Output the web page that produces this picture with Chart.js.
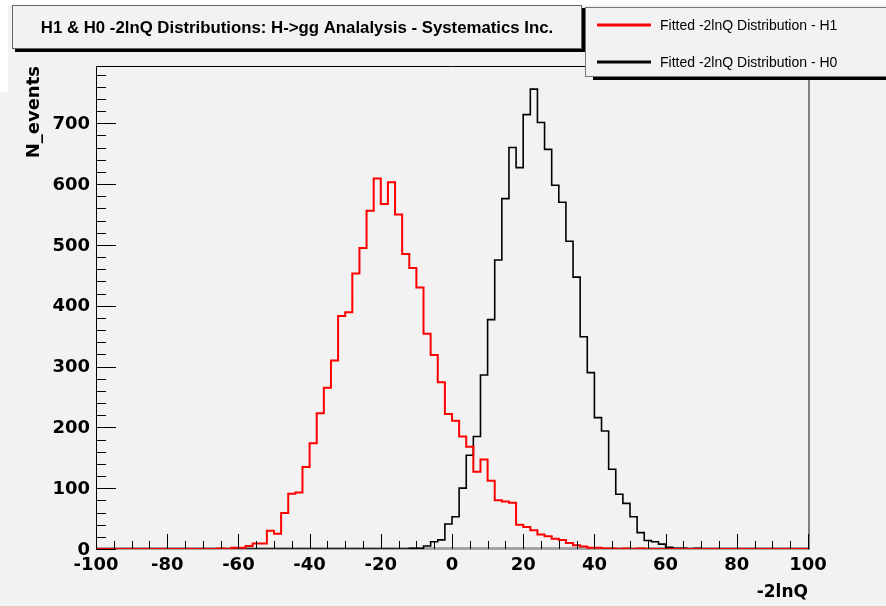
<!DOCTYPE html>
<html>
<head>
<meta charset="utf-8">
<title>H1 & H0 -2lnQ Distributions</title>
<script src="https://cdn.jsdelivr.net/npm/chart.js@4.4.1/dist/chart.umd.min.js"></script>
<style>
  body { margin: 0; background: #f2f2f2; }
  canvas { display: block; }
</style>
</head>
<body>
<canvas id="grafico" width="886" height="608"></canvas>
<script>
const chartTitle = "H1 & H0 -2lnQ Distributions: H->gg Analalysis - Systematics Inc.";
const seriesNames = ["Fitted -2lnQ Distribution - H1", "Fitted -2lnQ Distribution - H0"];

// 100 bins of width 2 from -100 to 100
const xMin = -100, xMax = 100, binWidth = 2;
const yMax = 794;
const xTicks = [-100, -80, -60, -40, -20, 0, 20, 40, 60, 80, 100];
const yTicks = [0, 100, 200, 300, 400, 500, 600, 700];

const h1Counts = [
  0, 0, 0, 0, 0, 0, 0, 0, 0, 0,
  0, 0, 0, 0, 0, 0, 0, 1, 0, 2,
  2, 5, 9, 9, 30, 25, 59, 91, 93, 135,
  174, 223, 265, 310, 383, 389, 453, 495, 556, 609,
  567, 603, 550, 485, 462, 430, 354, 319, 274, 222,
  211, 185, 168, 127, 147, 112, 80, 78, 76, 40,
  36, 31, 24, 21, 17, 15, 10, 6, 4, 2,
  2, 1, 1, 0, 1, 0, 1, 0, 0, 0,
  0, 0, 0, 0, 0, 0, 0, 0, 0, 0,
  0, 0, 0, 0, 0, 0, 0, 0, 0, 0
];

const h0Counts = [
  0, 0, 0, 0, 0, 0, 0, 0, 0, 0,
  0, 0, 0, 0, 0, 0, 0, 0, 0, 0,
  0, 0, 0, 0, 0, 0, 0, 0, 0, 0,
  0, 0, 0, 0, 0, 0, 0, 0, 0, 0,
  0, 0, 0, 0, 1, 1, 5, 12, 15, 41,
  53, 100, 154, 185, 286, 377, 475, 576, 660, 627,
  714, 756, 701, 657, 598, 570, 506, 447, 349, 290,
  216, 194, 131, 90, 75, 53, 27, 14, 12, 8,
  3, 1, 1, 0, 1, 0, 0, 0, 0, 0,
  0, 0, 0, 0, 0, 0, 0, 0, 0, 0
];

// step points on the bin edges, last edge repeats the last bin
function histoPoints(counts) {
  const pts = counts.map((c, i) => ({ x: xMin + i * binWidth, y: c }));
  pts.push({ x: xMax, y: counts[counts.length - 1] });
  return pts;
}

const fundo = '#f2f2f2';

const rootFrame = {
  id: 'rootFrame',
  beforeDraw(chart) {
    const ctx = chart.ctx;
    ctx.save();
    ctx.fillStyle = fundo;
    ctx.fillRect(0, 0, chart.width, chart.height);
    ctx.fillStyle = '#ffffff';
    ctx.fillRect(0, 0, chart.width, 5);
    ctx.fillRect(0, 0, 8, 92);
    ctx.fillStyle = '#f2c2c2';
    ctx.fillRect(0, chart.height - 2, chart.width, 2);
    ctx.restore();
  },
  beforeDatasetsDraw(chart) {
    const { ctx, chartArea: a } = chart;
    ctx.save();
    ctx.fillStyle = '#a3a3a3';
    ctx.fillRect(a.left, a.bottom - 2, a.right - a.left, 3);
    ctx.restore();
  },
  afterDatasetsDraw(chart) {
    const { ctx, chartArea: a } = chart;
    const xs = chart.scales.x, ys = chart.scales.y;
    ctx.save();
    // frame
    ctx.strokeStyle = '#000';
    ctx.lineWidth = 1;
    ctx.beginPath();
    ctx.moveTo(a.left + 0.5, a.bottom);
    ctx.lineTo(a.left + 0.5, a.top + 0.5);
    ctx.lineTo(a.right, a.top + 0.5);
    ctx.stroke();
    ctx.fillStyle = '#808080';
    ctx.fillRect(a.right, a.top, 2, a.bottom - a.top + 1);

    // ticks inside the frame
    ctx.beginPath();
    for (let v = xMin; v <= xMax; v += 5) {
      const len = xTicks.includes(v) ? 15 : 8;
      const px = Math.round(xs.getPixelForValue(v)) + 0.5;
      ctx.moveTo(px, a.bottom);
      ctx.lineTo(px, a.bottom - len);
    }
    for (let v = 0; v <= yMax; v += 20) {
      const len = yTicks.includes(v) ? 20 : 10;
      const py = Math.round(ys.getPixelForValue(v)) + 0.5;
      ctx.moveTo(a.left, py);
      ctx.lineTo(a.left + len, py);
    }
    ctx.stroke();
    ctx.restore();
  },
  afterDraw(chart) {
    const ctx = chart.ctx;
    ctx.save();

    // title box with shadow
    ctx.fillStyle = '#000';
    ctx.fillRect(15, 8, 570, 44);
    ctx.fillStyle = fundo;
    ctx.fillRect(12, 5, 570, 44);
    ctx.strokeStyle = '#666';
    ctx.lineWidth = 1;
    ctx.strokeRect(12.5, 5.5, 569, 43);
    ctx.fillStyle = '#000';
    ctx.font = 'bold 16.8px "Liberation Sans", Arial, sans-serif';
    ctx.textAlign = 'center';
    ctx.textBaseline = 'middle';
    ctx.fillText(chartTitle, 297, 28);

    // legend box
    ctx.fillStyle = '#000';
    ctx.fillRect(593, 10, 310, 70);
    ctx.fillStyle = fundo;
    ctx.fillRect(585, 7, 310, 70);
    ctx.strokeStyle = '#777';
    ctx.strokeRect(585.5, 7.5, 310, 69);
    ctx.font = '14px "Liberation Sans", Arial, sans-serif';
    ctx.textAlign = 'left';
    chart.data.datasets.forEach((ds, i) => {
      const y = 25 + i * 37;
      ctx.strokeStyle = ds.borderColor;
      ctx.lineWidth = 3;
      ctx.beginPath();
      ctx.moveTo(597, y);
      ctx.lineTo(651, y);
      ctx.stroke();
      ctx.fillStyle = '#000';
      ctx.fillText(ds.label, 660, y + 1);
    });
    ctx.restore();
  }
};

Chart.defaults.font.family = '"DejaVu Sans", sans-serif';
Chart.defaults.color = '#000';

const labelFont = { size: 18, weight: 'bold' };

new Chart(document.getElementById('grafico'), {
  type: 'line',
  data: {
    datasets: [
      {
        label: seriesNames[0],
        data: histoPoints(h1Counts),
        borderColor: '#ff0000',
        borderWidth: 2,
        stepped: true,
        pointRadius: 0,
        fill: false
      },
      {
        label: seriesNames[1],
        data: histoPoints(h0Counts),
        borderColor: '#000000',
        borderWidth: 1.6,
        stepped: true,
        pointRadius: 0,
        fill: false
      }
    ]
  },
  options: {
    responsive: false,
    animation: false,
    devicePixelRatio: 1,
    layout: { padding: { top: 66, right: 78, left: 0, bottom: 0 } },
    plugins: {
      legend: { display: false },
      title: { display: false },
      tooltip: { enabled: false }
    },
    scales: {
      x: {
        type: 'linear',
        min: xMin,
        max: xMax,
        afterBuildTicks: s => { s.ticks = xTicks.map(v => ({ value: v })); },
        afterFit: s => { s.height = 59; },
        grid: { display: false, drawTicks: false },
        border: { display: false },
        ticks: { font: labelFont, padding: 6, maxRotation: 0, autoSkip: false },
        title: {
          display: true,
          text: '-2lnQ',
          align: 'end',
          font: { size: 17, weight: 'bold' },
          padding: { top: 0, bottom: 5 }
        }
      },
      y: {
        type: 'linear',
        min: 0,
        max: yMax,
        afterBuildTicks: s => { s.ticks = yTicks.map(v => ({ value: v })); },
        afterFit: s => { s.width = 96; },
        grid: { display: false, drawTicks: false },
        border: { display: false },
        ticks: { font: labelFont, padding: 6, labelOffset: 1 },
        title: {
          display: true,
          text: 'N_events',
          align: 'end',
          font: labelFont,
          padding: { top: 24, bottom: 0 }
        }
      }
    }
  },
  plugins: [rootFrame]
});
</script>
</body>
</html>
